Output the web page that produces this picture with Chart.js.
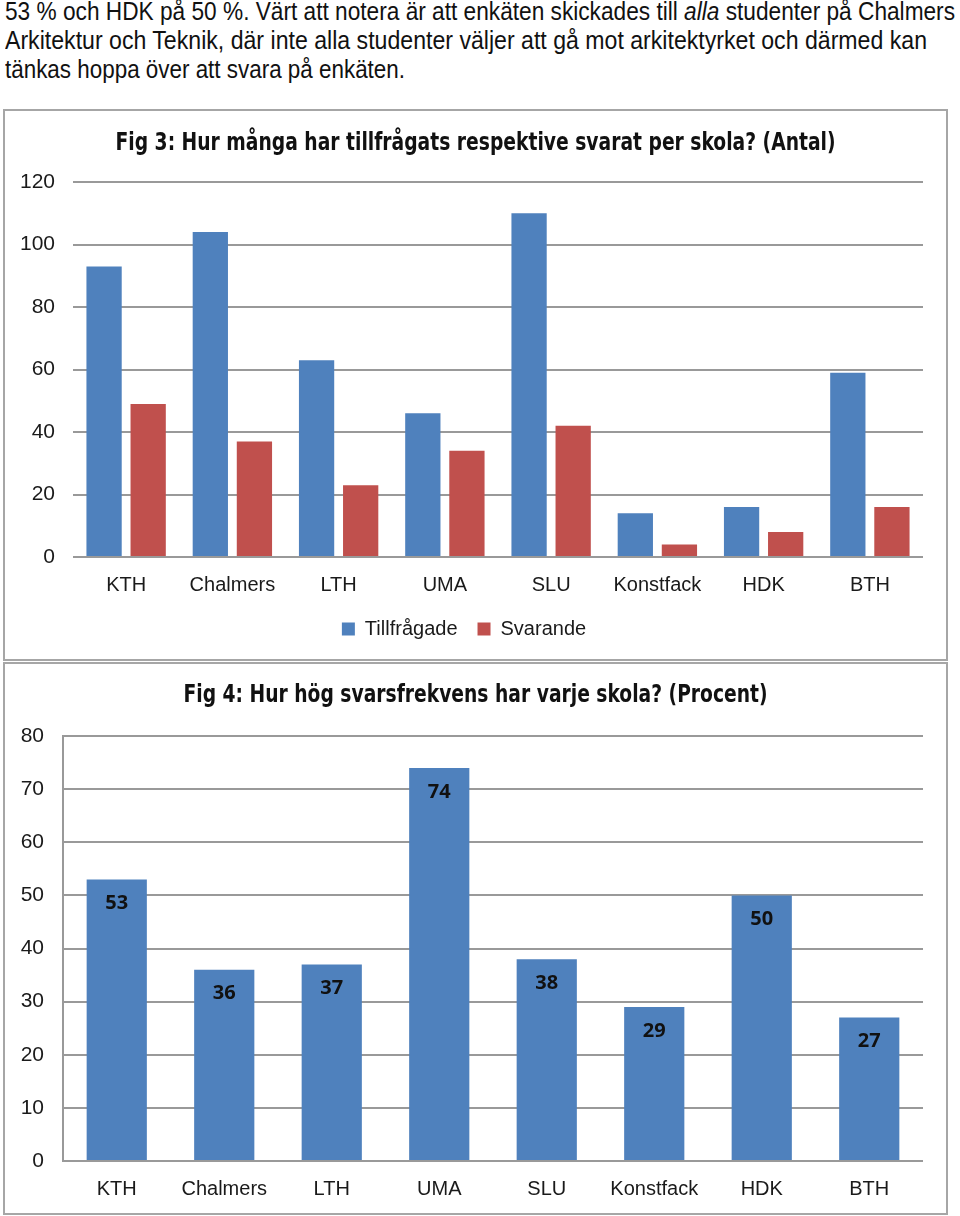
<!DOCTYPE html>
<html lang="sv">
<head>
<meta charset="utf-8">
<title>Fig 3 och Fig 4</title>
<script src="https://cdn.jsdelivr.net/npm/chart.js@4/dist/chart.umd.min.js"></script>
<style>
    html, body { margin: 0; padding: 0; background: #fff; }
    body { width: 960px; height: 1216px; position: relative; overflow: hidden; }
    .text {
        position: absolute; left: 5px; top: -3px;
        font-family: "Liberation Sans Narrow", "Liberation Sans", sans-serif;
        font-size: 26px; line-height: 29px; color: #111;
    }
    .rad { display: block; white-space: nowrap; }
    .rad span { display: inline-block; transform-origin: 0 0; }
    .box {
        position: absolute; left: 3px; width: 945px;
        box-sizing: border-box; border: 2px solid #a6a6a6; background: #fff;
    }
    .box .inner { position: relative; width: 100%; height: 100%; }
    #box1 { top: 109px; height: 552px; }
    #box2 { top: 662px; height: 553px; }
</style>
</head>
<body>
<div class="text">
    <div class="rad"><span data-w="950">53 % och HDK på 50 %. Värt att notera är att enkäten skickades till <i>alla</i> studenter på Chalmers</span></div>
    <div class="rad"><span data-w="922">Arkitektur och Teknik, där inte alla studenter väljer att gå mot arkitektyrket och därmed kan</span></div>
    <div class="rad"><span data-w="400">tänkas hoppa över att svara på enkäten.</span></div>
</div>

<div class="box" id="box1"><div class="inner"><canvas id="antalChart"></canvas></div></div>
<div class="box" id="box2"><div class="inner"><canvas id="procentChart"></canvas></div></div>

<script>
// Data
const skolor = ['KTH', 'Chalmers', 'LTH', 'UMA', 'SLU', 'Konstfack', 'HDK', 'BTH'];
const tillfragade = [93, 104, 63, 46, 110, 14, 16, 59];
const svarande = [49, 37, 23, 34, 42, 4, 8, 16];
const svarsfrekvens = [53, 36, 37, 74, 38, 29, 50, 27];
const antalTicks = [0, 20, 40, 60, 80, 100, 120];
const procentTicks = [0, 10, 20, 30, 40, 50, 60, 70, 80];

const BLA = '#4f81bd';
const ROD = '#c0504d';
const GRID = '#999999';
const TEXT = '#1a1a1a';

document.addEventListener('DOMContentLoaded', function() {
    // Anpassa brödtextens rader till bredden i originalet
    document.querySelectorAll('.rad span').forEach(el => {
        const w = el.getBoundingClientRect().width;
        el.style.transform = `scaleX(${el.dataset.w / w})`;
    });

    Chart.defaults.font.family = '"Liberation Sans", Arial, sans-serif';
    Chart.defaults.color = TEXT;
    Chart.defaults.animation = false;

    // Smal rubrik (hoptryckt i bredd som i originalet)
    const smalTitel = {
        id: 'smalTitel',
        afterDraw(chart, args, opts) {
            const ctx = chart.ctx;
            ctx.save();
            ctx.font = 'bold 24px "DejaVu Sans Condensed", "DejaVu Sans", sans-serif';
            ctx.fillStyle = '#111';
            ctx.textAlign = 'center';
            ctx.textBaseline = 'middle';
            const w = ctx.measureText(opts.text).width;
            ctx.translate(chart.width / 2, opts.y);
            ctx.scale(Math.min(1, opts.width / w), 1);
            ctx.fillText(opts.text, 0, 0);
            ctx.restore();
        }
    };

    // Värden inne i staplarna (Fig 4)
    const barLabels = {
        id: 'barLabels',
        afterDatasetsDraw(chart) {
            const ctx = chart.ctx;
            const meta = chart.getDatasetMeta(0);
            const data = chart.data.datasets[0].data;
            ctx.save();
            ctx.font = 'bold 20px "Open Sans", "DejaVu Sans", sans-serif';
            ctx.fillStyle = '#111';
            ctx.textAlign = 'center';
            ctx.textBaseline = 'middle';
            meta.data.forEach((bar, i) => {
                ctx.fillText(data[i], bar.x, bar.y + 24);
            });
            ctx.restore();
        }
    };

    // Fig 3
    const antalCtx = document.getElementById('antalChart').getContext('2d');
    const antalChart = new Chart(antalCtx, {
        type: 'bar',
        data: {
            labels: skolor,
            datasets: [{
                label: 'Tillfrågade',
                data: tillfragade,
                backgroundColor: BLA,
                categoryPercentage: 0.83,
                barPercentage: 0.8
            }, {
                label: 'Svarande',
                data: svarande,
                backgroundColor: ROD,
                categoryPercentage: 0.83,
                barPercentage: 0.8
            }]
        },
        plugins: [smalTitel],
        options: {
            responsive: true,
            maintainAspectRatio: false,
            layout: { padding: { left: 0, right: 23, top: 71, bottom: 10 } },
            plugins: {
                smalTitel: {
                    text: 'Fig 3: Hur många har tillfrågats respektive svarat per skola? (Antal)',
                    width: 720,
                    y: 33
                },
                legend: {
                    position: 'bottom',
                    labels: {
                        boxWidth: 13,
                        boxHeight: 13,
                        padding: 20,
                        font: { size: 20 },
                        color: TEXT
                    }
                },
                tooltip: { enabled: false }
            },
            scales: {
                y: {
                    min: 0,
                    max: 120,
                    afterFit: s => { s.width = 68; },
                    afterBuildTicks: s => { s.ticks = antalTicks.map(v => ({ value: v })); },
                    ticks: { padding: 18, font: { size: 21 } },
                    grid: { color: GRID, lineWidth: 2, drawTicks: false },
                    border: { display: false }
                },
                x: {
                    afterFit: s => { s.height = 42; },
                    ticks: { padding: 16, font: { size: 20 } },
                    grid: { display: false, drawTicks: false },
                    border: { display: false }
                }
            }
        }
    });

    // Fig 4
    const procentCtx = document.getElementById('procentChart').getContext('2d');
    const procentChart = new Chart(procentCtx, {
        type: 'bar',
        data: {
            labels: skolor,
            datasets: [{
                label: 'Svarsfrekvens',
                data: svarsfrekvens,
                backgroundColor: BLA,
                categoryPercentage: 1,
                barPercentage: 0.56
            }]
        },
        plugins: [smalTitel, barLabels],
        options: {
            responsive: true,
            maintainAspectRatio: false,
            layout: { padding: { left: 0, right: 23, top: 72, bottom: 0 } },
            plugins: {
                smalTitel: {
                    text: 'Fig 4: Hur hög svarsfrekvens har varje skola? (Procent)',
                    width: 584,
                    y: 32
                },
                legend: { display: false },
                tooltip: { enabled: false }
            },
            scales: {
                y: {
                    min: 0,
                    max: 80,
                    afterFit: s => { s.width = 58; },
                    afterBuildTicks: s => { s.ticks = procentTicks.map(v => ({ value: v })); },
                    ticks: { padding: 19, font: { size: 21 } },
                    grid: { color: GRID, lineWidth: 2, drawTicks: false },
                    border: { display: true, color: GRID, width: 2 }
                },
                x: {
                    afterFit: s => { s.height = 52; },
                    ticks: { padding: 16, font: { size: 20 } },
                    grid: { display: false, drawTicks: false },
                    border: { display: false }
                }
            }
        }
    });
});
</script>
</body>
</html>
